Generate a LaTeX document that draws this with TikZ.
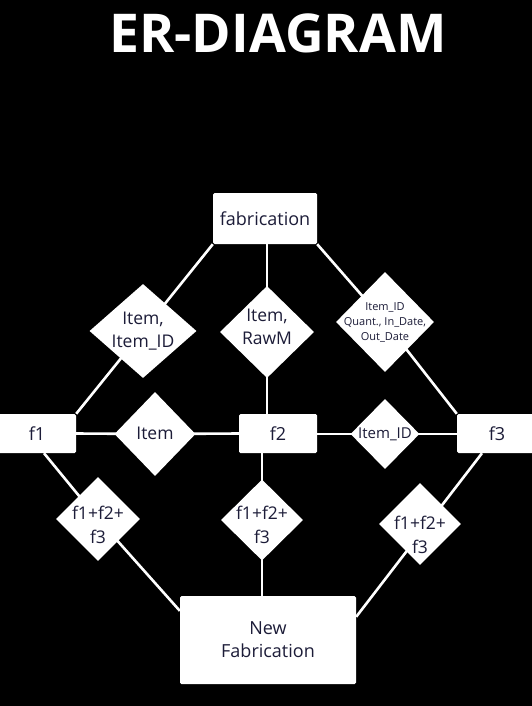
\documentclass[tikz,border=0pt]{standalone}
\usepackage{fontspec}
\setmainfont{Open Sans}
\usetikzlibrary{shapes.geometric}
\definecolor{txt}{RGB}{28,28,56}
\pgfdeclarelayer{bg}
\pgfsetlayers{bg,main}
\begin{document}
\begin{tikzpicture}[x=1pt,y=-1pt,
  box/.style={fill=white, rounded corners=1.5pt, inner sep=0pt, text=txt,
    font=\fontsize{18}{23}\selectfont, align=center},
  rel/.style={diamond, fill=white, inner sep=0pt},
  lbl/.style={text=txt, align=center, inner sep=0pt, font=\fontsize{17.5}{23.5}\selectfont},
  small/.style={text=txt, align=center, inner sep=0pt, font=\fontsize{11}{15}\selectfont},
  link/.style={draw=white, line width=2.6pt}]
\useasboundingbox (0,0) rectangle (532,706);
\begin{pgfonlayer}{bg}
\fill[black] (0,0) rectangle (532,706);
\end{pgfonlayer}

\node[text=white, inner sep=0pt, font=\fontsize{53.5}{54}\bfseries\selectfont] (title) at (278,33) {ER-DIAGRAM};

% entities
\node[box, minimum width=104pt, minimum height=51pt] (fab) at (265,218.5) {fabrication};
\node[box, minimum width=78pt, minimum height=39pt] (f1) at (37,433.5) {f1};
\node[box, minimum width=78pt, minimum height=39pt] (f2) at (278,433.5) {f2};
\node[box, minimum width=80pt, minimum height=39pt] (f3) at (497,433.5) {f3};
\node[box, minimum width=176pt, minimum height=88pt] (nf) at (268,640) {New\\Fabrication};

% relationships
\node[rel, minimum width=107pt, minimum height=94pt,
  label={[lbl]center:{Item,\\Item\_ID}}] (d1) at (143,331) {};
\node[rel, minimum width=94pt, minimum height=92pt,
  label={[lbl, yshift=5pt]center:{Item,\\RawM}}] (d2) at (267,332) {};
\node[rel, minimum width=98pt, minimum height=100pt,
  label={[small]center:{Item\_ID\\Quant., In\_Date,\\Out\_Date}}] (d3) at (385,322) {};
\node[rel, minimum width=81pt, minimum height=84pt,
  label={[lbl, yshift=1pt]center:{Item}}] (d4) at (155,434) {};
\node[rel, minimum width=69pt, minimum height=70pt,
  label={[lbl, font=\fontsize{15}{18}\selectfont]center:{Item\_ID}}] (d5) at (385,434) {};
\node[rel, minimum width=84pt, minimum height=84pt,
  label={[lbl, yshift=-6pt]center:{f1+f2+\\f3}}] (d6) at (98,519) {};
\node[rel, minimum width=82pt, minimum height=81pt,
  label={[lbl, yshift=-5pt]center:{f1+f2+\\f3}}] (d7) at (262,520) {};
\node[rel, minimum width=82pt, minimum height=82pt,
  label={[lbl, yshift=-11pt]center:{f1+f2+\\f3}}] (d8) at (420,524) {};

% connectors
\begin{pgfonlayer}{bg}
\draw[link] (fab.south west) -- (d1.center) -- (f1.north east);
\draw[link] (fab.south -| d2.center) -- (d2.center) -- (d2.center |- f2.north);
\draw[link] (fab.south east) -- (d3.center) -- (f3.north west);
\draw[link] (f1.east) -- (d4.center) -- (f2.west);
\draw[link] (f2.east |- d5.center) -- (d5.center) -- (f3.west |- d5.center);
\draw[link] ([xshift=7pt]f1.south) -- (d6.center) -- ([yshift=-15pt]nf.north west);
\draw[link] (f2.south -| d7.center) -- (d7.center) -- (d7.center |- nf.north);
\draw[link] ([xshift=-15pt]f3.south) -- ([yshift=-21pt]nf.north east);
\end{pgfonlayer}
\end{tikzpicture}
\end{document}
